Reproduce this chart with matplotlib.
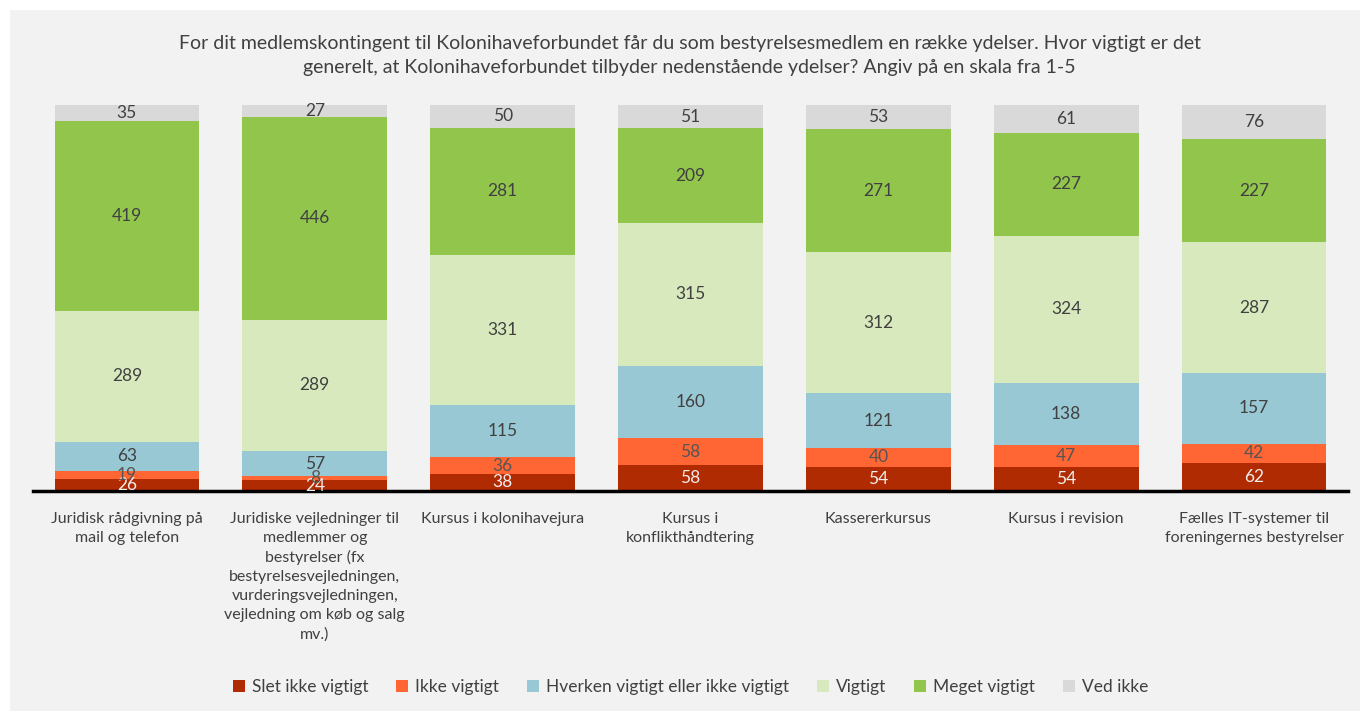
import numpy as np
import matplotlib.pyplot as plt
from matplotlib.patches import Rectangle

plt.rcParams['font.family'] = ['Lato', 'DejaVu Sans']

categories = [
    "Juridisk rådgivning på\nmail og telefon",
    "Juridiske vejledninger til\nmedlemmer og\nbestyrelser (fx\nbestyrelsesvejledningen,\nvurderingsvejledningen,\nvejledning om køb og salg\nmv.)",
    "Kursus i kolonihavejura",
    "Kursus i\nkonflikthåndtering",
    "Kassererkursus",
    "Kursus i revision",
    "Fælles IT-systemer til\nforeningernes bestyrelser",
]
series_names = ["Slet ikke vigtigt", "Ikke vigtigt", "Hverken vigtigt eller ikke vigtigt",
                "Vigtigt", "Meget vigtigt", "Ved ikke"]
slet_ikke = [26, 24, 38, 58, 54, 54, 62]
ikke = [19, 8, 36, 58, 40, 47, 42]
hverken = [63, 57, 115, 160, 121, 138, 157]
vigtigt = [289, 289, 331, 315, 312, 324, 287]
meget = [419, 446, 281, 209, 271, 227, 227]
ved_ikke = [35, 27, 50, 51, 53, 61, 76]

series = [slet_ikke, ikke, hverken, vigtigt, meget, ved_ikke]
colors = ["#b02b02", "#ff6633", "#99c8d5", "#d8eabd", "#92c54c", "#d9d9d9"]
label_colors = ["#eeeeee", "#555555", "#404040", "#404040", "#404040", "#404040"]

title = ("For dit medlemskontingent til Kolonihaveforbundet får du som bestyrelsesmedlem en række ydelser. Hvor vigtigt er det\n"
         "generelt, at Kolonihaveforbundet tilbyder nedenstående ydelser? Angiv på en skala fra 1-5")

fig = plt.figure(figsize=(13.6, 7.11), dpi=100, facecolor="white")
fig.patches.append(Rectangle((10 / 1360, 0), 1, 1 - 10 / 711, transform=fig.transFigure,
                             facecolor="#f2f2f2", edgecolor="none", zorder=-10))
ax = fig.add_axes([33 / 1360, (711 - 491) / 711, (1348 - 33) / 1360, (491 - 105) / 711])
ax.set_facecolor("none")

x = np.arange(len(categories))
bottom = np.zeros(len(categories))
for name, vals, col, lcol in zip(series_names, series, colors, label_colors):
    vals = np.array(vals)
    ax.bar(x, vals, bottom=bottom, width=0.77, color=col, label=name)
    for xi, b, v in zip(x, bottom, vals):
        ax.text(xi, b + v / 2, str(v), ha="center", va="center", fontsize=12.5, color=lcol)
    bottom = bottom + vals

ax.set_xlim(-0.5, len(categories) - 0.5)
ax.set_ylim(0, bottom.max())
ax.set_yticks([])
for s in ["top", "right", "left"]:
    ax.spines[s].set_visible(False)
ax.spines["bottom"].set_linewidth(2.5)
ax.spines["bottom"].set_color("black")
ax.set_xticks(x)
ax.set_xticklabels(categories, fontsize=11.5, color="#404040", linespacing=1.45, va="top")
ax.tick_params(axis="x", length=0, pad=15)

fig.text(0.507, 1 - 56 / 711, title, ha="center", va="center", fontsize=14,
         color="#404040", linespacing=1.5)

ax.legend(loc="center", bbox_to_anchor=(0.5, (491 - 687) / 386), ncol=6, frameon=False,
          fontsize=12.5, handlelength=0.7, handleheight=0.7, handletextpad=0.4,
          columnspacing=1.6, labelcolor="#404040")

fig.savefig("out.png", dpi=100, facecolor=fig.get_facecolor())
